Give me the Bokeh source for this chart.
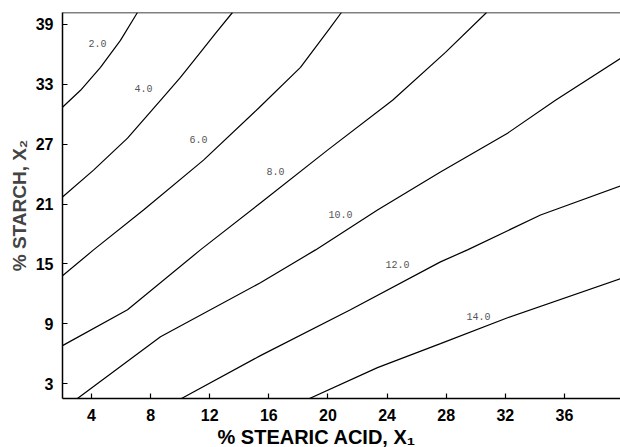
from bokeh.plotting import figure
from bokeh.models import Range1d, FixedTicker, Span, Title, ColumnDataSource
from bokeh.embed import file_html
from bokeh.resources import INLINE
from bokeh.core.properties import value

# contour levels
levels = ["2.0", "4.0", "6.0", "8.0", "10.0", "12.0", "14.0"]

# contour traces (x = % stearic acid, y = % starch)
c2_x = [2.04, 3.26, 4.61, 5.96, 7.11]
c2_y = [30.7, 32.4, 34.7, 37.4, 40.2]
c4_x = [2.04, 4.14, 6.44, 8.67, 10.02, 11.37, 12.39, 13.54]
c4_y = [21.7, 24.4, 27.6, 31.4, 33.7, 36.2, 38.1, 40.2]
c6_x = [2.04, 4.14, 7.52, 11.58, 15.30, 18.14, 20.17, 20.91]
c6_y = [13.8, 16.4, 20.4, 25.4, 30.6, 34.7, 38.7, 40.2]
c8_x = [2.04, 6.44, 11.37, 15.43, 19.97, 24.37, 27.95, 30.73]
c8_y = [6.8, 10.4, 16.4, 21.1, 26.4, 31.4, 36.2, 40.2]
c10_x = [3.05, 8.67, 15.43, 19.16, 23.35, 27.61, 32.15, 35.39, 39.79]
c10_y = [1.5, 7.7, 13.1, 16.4, 20.4, 24.2, 28.1, 31.4, 35.6]
c12_x = [10.09, 15.43, 21.52, 27.61, 29.44, 34.38, 39.79]
c12_y = [1.5, 5.8, 10.4, 15.2, 16.4, 19.9, 22.8]
c14_x = [18.75, 23.35, 27.61, 32.15, 39.79]
c14_y = [1.5, 4.6, 7.0, 9.6, 13.5]

# where each level's label sits
label_x = [4.41, 7.52, 11.24, 16.45, 20.85, 24.7, 30.18]
label_y = [37.1, 32.6, 27.5, 24.3, 19.9, 14.9, 9.7]

x_ticks = [4, 8, 12, 16, 20, 24, 28, 32, 36]
y_ticks = [3, 9, 15, 21, 27, 33, 39]

X_MIN, X_MAX = 2.04, 39.79
Y_MIN, Y_MAX = 1.5, 40.2

p = figure(width=620, height=447, output_backend="svg", toolbar_location=None,
           x_range=Range1d(X_MIN, X_MAX), y_range=Range1d(Y_MIN, Y_MAX),
           min_border_left=62, min_border_right=0, min_border_top=12,
           min_border_bottom=48)
p.outline_line_color = None
p.xgrid.grid_line_color = None
p.ygrid.grid_line_color = None
p.background_fill_color = "white"
p.border_fill_color = "white"

curves = [(c2_x, c2_y), (c4_x, c4_y), (c6_x, c6_y), (c8_x, c8_y),
          (c10_x, c10_y), (c12_x, c12_y), (c14_x, c14_y)]
for cx, cy in curves:
    p.line(cx, cy, line_color="black", line_width=1.2)

src = ColumnDataSource(dict(x=label_x, y=label_y, t=levels))
p.text(x="x", y="y", text="t", source=src, text_font=value("Liberation Mono"),
       text_font_size="10px", text_color="#555555", text_align="center",
       text_baseline="middle")

for ax, ticks in ((p.xaxis, x_ticks), (p.yaxis, y_ticks)):
    ax.ticker = FixedTicker(ticks=ticks)
    ax.major_tick_in = 5
    ax.major_tick_out = 0
    ax.minor_tick_line_color = None
    ax.axis_line_width = 1.5
    ax.major_tick_line_width = 1.2
    ax.major_label_text_font = "Liberation Sans"
    ax.major_label_text_font_style = "bold"
    ax.major_label_text_font_size = "16px"
    ax.major_label_text_color = "black"
    ax.major_label_standoff = 9

p.yaxis.axis_label = "% STARCH, X\u2082"
p.yaxis.axis_label_text_font = "Liberation Sans"
p.yaxis.axis_label_text_font_style = "bold"
p.yaxis.axis_label_text_font_size = "19px"
p.yaxis.axis_label_standoff = 3

p.xaxis.major_label_standoff = 10

p.add_layout(Span(location=Y_MAX, dimension="width", line_color="black",
                  line_width=1.5))

p.add_layout(Title(text="% STEARIC ACID, X\u2081", align="left", offset=155,
                   text_font="Liberation Sans", text_font_style="bold",
                   text_font_size="20px", text_color="black", standoff=0),
             "below")

open("out.html", "w").write(file_html(p, INLINE))
